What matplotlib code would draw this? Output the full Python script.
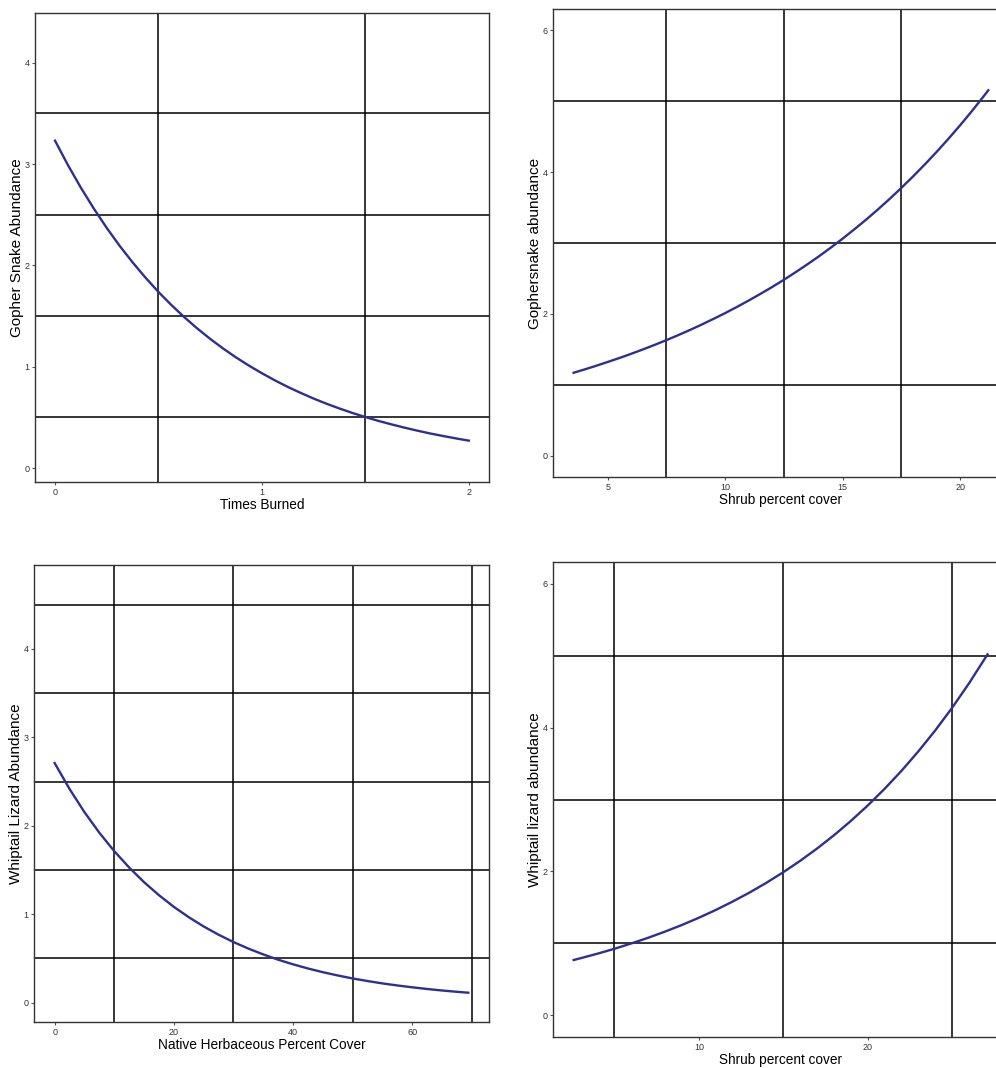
import matplotlib.pyplot as plt

plt.rcParams["font.family"] = ["Liberation Sans", "DejaVu Sans"]

LINE_COLOR = "#2D3091"

# Gopher snake vs times burned
burn_x = [0, 0.0625, 0.125, 0.1875, 0.25, 0.3125, 0.375, 0.4375, 0.5, 0.5625,
          0.625, 0.6875, 0.75, 0.8125, 0.875, 0.9375, 1.0, 1.0625, 1.125,
          1.1875, 1.25, 1.3125, 1.375, 1.4375, 1.5, 1.5625, 1.625, 1.6875,
          1.75, 1.8125, 1.875, 1.9375, 2.0]
burn_y = [3.230, 2.989, 2.766, 2.560, 2.369, 2.192, 2.029, 1.878, 1.737, 1.608,
          1.488, 1.377, 1.274, 1.179, 1.091, 1.010, 0.935, 0.865, 0.800,
          0.741, 0.685, 0.634, 0.587, 0.543, 0.503, 0.465, 0.431, 0.399,
          0.369, 0.341, 0.316, 0.292, 0.270]

# Gopher snake vs shrub cover
shrub_g_x = [3.55, 4, 4.5, 5, 5.5, 6, 6.5, 7, 7.5, 8, 8.5, 9, 9.5, 10, 10.5,
             11, 11.5, 12, 12.5, 13, 13.5, 14, 14.5, 15, 15.5, 16, 16.5, 17,
             17.5, 18, 18.5, 19, 19.5, 20, 20.5, 21, 21.2]
shrub_g_y = [1.170, 1.215, 1.267, 1.322, 1.378, 1.437, 1.499, 1.563, 1.630,
             1.700, 1.773, 1.849, 1.929, 2.011, 2.098, 2.188, 2.282, 2.379,
             2.481, 2.588, 2.699, 2.814, 2.935, 3.061, 3.193, 3.329, 3.472,
             3.621, 3.777, 3.939, 4.108, 4.284, 4.468, 4.659, 4.859, 5.067,
             5.153]

# Whiptail vs native herbaceous cover
herb_x = [0, 2.5, 5, 7.5, 10, 12.5, 15, 17.5, 20, 22.5, 25, 27.5, 30, 32.5,
          35, 37.5, 40, 42.5, 45, 47.5, 50, 52.5, 55, 57.5, 60, 62.5, 65,
          67.5, 69.4]
herb_y = [2.710, 2.417, 2.155, 1.922, 1.714, 1.529, 1.363, 1.216, 1.084,
          0.967, 0.862, 0.769, 0.686, 0.612, 0.546, 0.486, 0.434, 0.387,
          0.345, 0.308, 0.274, 0.245, 0.218, 0.195, 0.174, 0.155, 0.138,
          0.123, 0.113]

# Whiptail vs shrub cover
shrub_w_x = [2.59, 3, 4, 5, 6, 7, 8, 9, 10, 11, 12, 13, 14, 15, 16, 17, 18,
             19, 20, 21, 22, 23, 24, 25, 26, 27, 27.09]
shrub_w_y = [0.770, 0.795, 0.858, 0.926, 1.000, 1.079, 1.165, 1.257, 1.357,
             1.465, 1.582, 1.707, 1.843, 1.990, 2.148, 2.319, 2.503, 2.702,
             2.917, 3.149, 3.399, 3.670, 3.961, 4.276, 4.616, 4.983, 5.017]

panels = [
    dict(pos=[0.0351, 0.5487, 0.4558, 0.4391], x=burn_x, y=burn_y,
         xlim=(-0.097, 2.097), ylim=(-0.138, 4.49),
         xt=[0, 1, 2], xg=[0.5, 1.5], yt=[0, 1, 2, 3, 4], yg=[0.5, 1.5, 2.5, 3.5],
         xlabel="Times Burned", ylabel="Gopher Snake Abundance"),
    dict(pos=[0.5552, 0.5534, 0.4578, 0.4382], x=shrub_g_x, y=shrub_g_y,
         xlim=(2.67, 22.08), ylim=(-0.3, 6.3),
         xt=[5, 10, 15, 20], xg=[7.5, 12.5, 17.5], yt=[0, 2, 4, 6], yg=[1, 3, 5],
         xlabel="Shrub percent cover", ylabel="Gophersnake abundance"),
    dict(pos=[0.0341, 0.0431, 0.4568, 0.4279], x=herb_x, y=herb_y,
         xlim=(-3.47, 72.87), ylim=(-0.218, 4.95),
         xt=[0, 20, 40, 60], xg=[10, 30, 50, 70], yt=[0, 1, 2, 3, 4],
         yg=[0.5, 1.5, 2.5, 3.5, 4.5],
         xlabel="Native Herbaceous Percent Cover", ylabel="Whiptail Lizard Abundance"),
    dict(pos=[0.5552, 0.0290, 0.4568, 0.4448], x=shrub_w_x, y=shrub_w_y,
         xlim=(1.365, 28.3), ylim=(-0.3, 6.3),
         xt=[10, 20], xg=[5, 15, 25], yt=[0, 2, 4, 6], yg=[1, 3, 5],
         xlabel="Shrub percent cover", ylabel="Whiptail lizard abundance"),
]

fig = plt.figure(figsize=(9.96, 10.68), dpi=100)

for p in panels:
    ax = fig.add_axes(p["pos"])
    ax.plot(p["x"], p["y"], color=LINE_COLOR, lw=1.7, zorder=3,
            solid_joinstyle="round")
    ax.set_xlim(*p["xlim"])
    ax.set_ylim(*p["ylim"])
    ax.set_xticks(p["xt"])
    ax.set_yticks(p["yt"])
    ax.set_xticks(p["xg"], minor=True)
    ax.set_yticks(p["yg"], minor=True)
    ax.grid(False, which="major")
    ax.grid(True, which="minor", color="black", lw=1.1)
    ax.tick_params(which="minor", length=0)
    ax.tick_params(which="major", length=2.5, width=0.8, color="#555555",
                   labelsize=6.5, labelcolor="#333333", pad=1.5)
    for s in ax.spines.values():
        s.set_color("#333333")
        s.set_linewidth(1.0)
    ax.set_xlabel(p["xlabel"], fontsize=9.8, labelpad=1)
    ax.set_ylabel(p["ylabel"], fontsize=11, labelpad=0.5)

plt.savefig("out.png", dpi=100, facecolor="white")
